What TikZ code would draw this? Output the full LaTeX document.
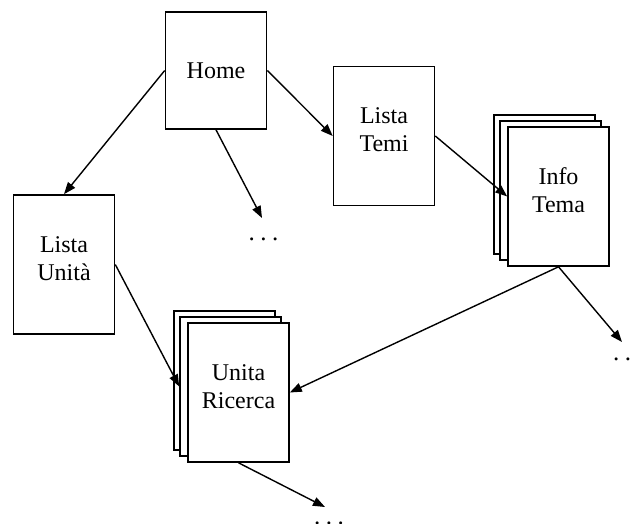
\documentclass[tikz,border=0pt]{standalone}
\usepackage{fontspec}
\setmainfont{Liberation Serif}
\usetikzlibrary{arrows.meta}

\newcommand{\puntini}{.\hspace{5.5pt}.\hspace{5.5pt}.}

\begin{document}
\begin{tikzpicture}[x=1pt,y=-1pt,
    pagina/.style={draw,line width=1.6pt,fill=white,minimum width=101pt,minimum height=139pt,
        align=center,inner sep=0pt,font=\fontsize{24}{28}\selectfont},
    freccia/.style={line width=1.4pt,-{Triangle[length=12pt,width=9pt]}},
    altro/.style={anchor=base,inner sep=0pt,font=\fontsize{25}{28}\selectfont}]
                \useasboundingbox (0,0) rectangle (632,524);
                \node[pagina,minimum height=117pt] (home) at (216,70.5) {Home};
                \node[pagina] (temi) at (384,136) {Lista\\Temi\\[-16pt]};
                \node[pagina] (info3) at (544.5,184.5) {};
                \node[pagina] (info2) at (550.5,190.5) {};
                \node[pagina] (info) at (558.5,196.5) {Info\\Tema\\[-16pt]};
                \node[pagina] (unita) at (64,264.5) {Lista\\Unità\\[-16pt]};
                \node[pagina] (ric3) at (224.5,380.5) {};
                \node[pagina] (ric2) at (230.5,386.5) {};
                \node[pagina] (ric) at (238.5,392.5) {Unita\\Ricerca\\[-16pt]};
                \node[altro] (altroA) at (263.5,240) {\puntini};
                \node[altro] (altroB) at (628,360) {\puntini};
                \node[altro] (altroC) at (329,524) {\puntini};
                \coordinate (fA) at (262,218);
                \coordinate (fB) at (622,342);
                \coordinate (fC) at (325,507);
                \draw[freccia] (home.west) -- (unita.north);
                \draw[freccia] (home.east) -- (temi.west);
                \draw[freccia] (home.south) -- (fA);
                \draw[freccia] (temi.east) -- (info.west);
                \draw[freccia] (info.south) -- (ric.east);
                \draw[freccia] (info.south) -- (fB);
                \draw[freccia] (unita.east) -- (ric2.west);
                \draw[freccia] (ric.south) -- (fC);
            \end{tikzpicture}
\end{document}
